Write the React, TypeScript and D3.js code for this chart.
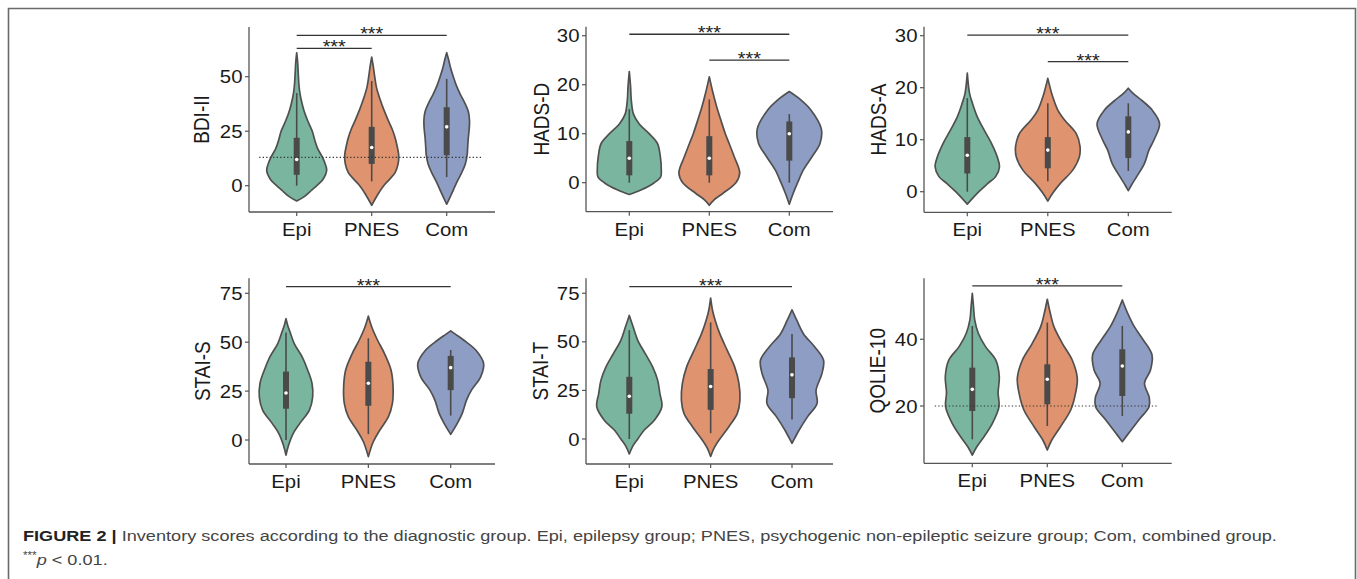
import React from "react";
import * as d3 from "d3";

// ---------- data ----------
const groups = ["Epi", "PNES", "Com"];
const groupFills = ["#7ab69f", "#e0936f", "#8e9dc3"];

const measures = ["BDI-II", "HADS-D", "HADS-A", "STAI-S", "STAI-T", "QOLIE-10"];

const bdiTicks = [0, 25, 50];
const hadsDTicks = [0, 10, 20, 30];
const hadsATicks = [0, 10, 20, 30];
const staiSTicks = [0, 25, 50, 75];
const staiTTicks = [0, 25, 50, 75];
const qolieTicks = [20, 40];

// violin outlines: [score, relative half-width]
const bdiProfiles: number[][][] = [
  [[-7, 0], [-5, 0.25], [-2, 0.5], [0, 0.67], [3, 0.88], [7, 1.0], [10, 0.95], [13, 0.86], [17, 0.7], [21, 0.6], [25, 0.52], [30, 0.36], [35, 0.23], [40, 0.14], [43, 0.1], [47, 0.07], [52, 0.05], [57, 0.03], [61, 0]],
  [[-9, 0], [-6, 0.12], [-3, 0.25], [0, 0.4], [3, 0.6], [6, 0.78], [10, 0.88], [14, 0.9], [18, 0.85], [22, 0.78], [26, 0.68], [30, 0.55], [35, 0.4], [40, 0.27], [45, 0.16], [50, 0.1], [55, 0.05], [59, 0]],
  [[-8.5, 0], [-5, 0.12], [-2, 0.22], [2, 0.35], [6, 0.5], [10, 0.62], [14, 0.68], [18, 0.7], [22, 0.72], [26, 0.75], [30, 0.76], [34, 0.72], [38, 0.6], [42, 0.45], [46, 0.32], [50, 0.22], [54, 0.13], [58, 0.06], [61, 0]],
];
const hadsDProfiles: number[][][] = [
  [[-2.4, 0], [-1.5, 0.36], [0, 0.78], [1.2, 0.98], [2.6, 1.0], [5.3, 0.97], [8, 0.88], [10, 0.62], [12, 0.31], [14, 0.13], [17, 0.06], [19.6, 0.04], [22.7, 0]],
  [[-4.6, 0], [-3.5, 0.15], [-2.2, 0.42], [0, 0.83], [2, 0.95], [5.3, 0.78], [8, 0.62], [10, 0.5], [12.8, 0.36], [15.5, 0.23], [18.2, 0.12], [21.6, 0]],
  [[-4.4, 0], [-2.2, 0.12], [0, 0.26], [2.6, 0.44], [5.3, 0.71], [8, 0.96], [11, 1.0], [14.8, 0.68], [16.9, 0.36], [18.6, 0]],
];
const hadsAProfiles: number[][][] = [
  [[-2.4, 0], [0, 0.36], [1.6, 0.64], [2.9, 0.88], [4.8, 1.0], [6.7, 0.93], [9.3, 0.75], [11.9, 0.52], [14.4, 0.31], [17, 0.16], [18.9, 0.07], [22.8, 0]],
  [[-1.8, 0], [-0.3, 0.15], [1.6, 0.39], [4.2, 0.78], [6.7, 0.98], [8.7, 1.0], [11.2, 0.88], [13.8, 0.52], [15.7, 0.31], [18.3, 0.15], [21.8, 0]],
  [[0.2, 0], [1.3, 0.1], [2.9, 0.26], [5.4, 0.5], [8, 0.64], [10, 0.8], [13.1, 0.97], [15.7, 0.74], [17.6, 0.41], [18.9, 0.15], [19.9, 0]],
];
const staiSProfiles: number[][][] = [
  [[-7.7, 0], [-2.6, 0.08], [3.4, 0.22], [8.5, 0.42], [15.3, 0.71], [22, 0.81], [28.9, 0.79], [35.7, 0.66], [42.5, 0.49], [49.3, 0.25], [55.3, 0.12], [58.7, 0.05], [62, 0]],
  [[-8.5, 0], [-0.9, 0.15], [5.1, 0.35], [11.9, 0.61], [18.7, 0.73], [27.2, 0.75], [35.7, 0.69], [44.2, 0.49], [51, 0.28], [57, 0.12], [63.3, 0]],
  [[2.9, 0], [8.5, 0.2], [13.6, 0.35], [20.4, 0.48], [25.5, 0.63], [32.3, 0.91], [39, 1.0], [46, 0.76], [51, 0.4], [54, 0.15], [55.8, 0]],
];
const staiTProfiles: number[][][] = [
  [[-7.7, 0], [-3.9, 0.1], [0, 0.26], [4.6, 0.46], [9.7, 0.77], [16.6, 1.0], [23.4, 0.94], [30.3, 0.87], [37, 0.72], [43.9, 0.49], [50.8, 0.26], [57.6, 0.12], [63.6, 0]],
  [[-9, 0], [-4.8, 0.1], [-0.5, 0.26], [6.3, 0.56], [13.2, 0.82], [20, 0.9], [28.5, 0.87], [37, 0.74], [45.6, 0.51], [54.2, 0.28], [61, 0.14], [66, 0.06], [72.5, 0]],
  [[-2.2, 0], [0.3, 0.08], [4.6, 0.22], [11.5, 0.48], [18.3, 0.77], [25.1, 0.74], [33.7, 0.92], [40.5, 0.97], [47.4, 0.7], [54.2, 0.35], [61, 0.15], [66.5, 0]],
];
const qolieProfiles: number[][][] = [
  [[5.3, 0], [7.8, 0.15], [10.8, 0.39], [14.8, 0.67], [19.8, 0.89], [24, 0.86], [28.8, 0.9], [33.8, 0.78], [37.8, 0.44], [41.8, 0.2], [45.8, 0.08], [49.8, 0.04], [53.8, 0]],
  [[6.8, 0], [9.8, 0.15], [13.8, 0.44], [18.8, 0.78], [23.8, 0.94], [28.3, 1.0], [33.8, 0.83], [38.8, 0.5], [43.8, 0.22], [47.8, 0.1], [52, 0]],
  [[9.3, 0], [12.3, 0.25], [15.8, 0.55], [19.8, 0.89], [22.5, 0.9], [26.8, 0.74], [30.8, 0.94], [35.3, 0.99], [39.8, 0.7], [43.8, 0.4], [47.8, 0.18], [51.8, 0]],
];

// box stats: [lower whisker, q1, median, q3, upper whisker]
const bdiBoxes = [[0, 5, 12, 22, 42.5], [2, 10, 17.5, 27, 48], [4, 14, 27, 36, 49]];
const hadsDBoxes = [[0, 1.5, 5, 8.5, 15], [0, 1.5, 5, 9.5, 17], [0, 4.5, 10, 12.5, 14]];
const hadsABoxes = [[0, 3.5, 7, 10.5, 18], [2, 4.5, 8, 10.5, 17], [4, 6.5, 11.5, 14.5, 17]];
const staiSBoxes = [[0, 16, 24, 35, 55], [3, 17.5, 29, 40, 52], [12.5, 25.5, 37, 43, 46]];
const staiTBoxes = [[0, 13, 22, 32, 56], [3, 15, 27, 36, 60], [10, 21, 33, 42, 54]];
const qolieBoxes = [[10, 18.5, 25, 31.5, 44], [14, 20.5, 28, 32.5, 45], [17, 23, 32, 37, 44]];

// significance brackets: [from group, to group, score level]
const bdiSig = [[0, 2, 69], [0, 1, 63]];
const hadsDSig = [[0, 2, 30.3], [1, 2, 25]];
const hadsASig = [[0, 2, 30.1], [1, 2, 25]];
const staiSSig = [[0, 2, 78.4]];
const staiTSig = [[0, 2, 78.4]];
const qolieSig = [[0, 2, 56]];

// cut-off reference lines
const bdiCutoff = [13];
const qolieCutoff = [20];
const noCutoff: number[] = [];

const captionBold = "FIGURE 2 | ";
const captionLine1 =
  "Inventory scores according to the diagnostic group. Epi, epilepsy group; PNES, psychogenic non-epileptic seizure group; Com, combined group.";
const captionLine2 = "p < 0.01.";

// ---------- layout ----------
type Layout = {
  left: number; right: number; top: number; bottom: number;
  yDomain: [number, number]; epiX: number; comX: number; labelX: number;
};
const layouts: Layout[] = [
  { left: 249, right: 495, top: 27, bottom: 212, yDomain: [-12.06, 72.8], epiX: 296.7, comX: 446.7, labelX: 208.5 },
  { left: 586, right: 833, top: 26.7, bottom: 211.7, yDomain: [-5.92, 31.84], epiX: 629.3, comX: 789.3, labelX: 548.5 },
  { left: 924, right: 1171.7, top: 26.7, bottom: 212.3, yDomain: [-3.96, 31.73], epiX: 967.3, comX: 1128.3, labelX: 886 },
  { left: 249, right: 495, top: 278.3, bottom: 464, yDomain: [-12.27, 82.67], epiX: 286, comX: 450.7, labelX: 210 },
  { left: 586, right: 833, top: 278.3, bottom: 464, yDomain: [-12.87, 82.7], epiX: 629.3, comX: 792, labelX: 548 },
  { left: 924, right: 1171.7, top: 278.3, bottom: 463.3, yDomain: [2.82, 58.29], epiX: 972.3, comX: 1122.3, labelX: 885 },
];

const panels = [
  { ticks: bdiTicks, profiles: bdiProfiles, boxes: bdiBoxes, sig: bdiSig, cut: bdiCutoff },
  { ticks: hadsDTicks, profiles: hadsDProfiles, boxes: hadsDBoxes, sig: hadsDSig, cut: noCutoff },
  { ticks: hadsATicks, profiles: hadsAProfiles, boxes: hadsABoxes, sig: hadsASig, cut: noCutoff },
  { ticks: staiSTicks, profiles: staiSProfiles, boxes: staiSBoxes, sig: staiSSig, cut: noCutoff },
  { ticks: staiTTicks, profiles: staiTProfiles, boxes: staiTBoxes, sig: staiTSig, cut: noCutoff },
  { ticks: qolieTicks, profiles: qolieProfiles, boxes: qolieBoxes, sig: qolieSig, cut: qolieCutoff },
];

const FONT = "'Liberation Sans', Arial, Helvetica, sans-serif";
const AXIS = "#555";
const SX = 1.1;

function Panel({ idx }: { idx: number }) {
  const L = layouts[idx];
  const P = panels[idx];
  const y = d3.scaleLinear().domain(L.yDomain).range([L.bottom, L.top]);
  const x = d3.scaleLinear().domain([0, 2]).range([L.epiX, L.comX]);
  const unit = (L.comX - L.epiX) / 2;
  const half = 0.4 * unit;
  const midY = (L.top + L.bottom) / 2;

  return (
    <g>
      {P.profiles.map((prof, i) => {
        const area = d3
          .area<number[]>()
          .y((d) => y(d[0]))
          .x0((d) => x(i) - half * d[1])
          .x1((d) => x(i) + half * d[1])
          .curve(d3.curveCatmullRom.alpha(0.5));
        return (
          <path key={"v" + i} d={area(prof) || ""} fill={groupFills[i]} stroke="#505050" strokeWidth={1.7} strokeLinejoin="round" />
        );
      })}
      {P.boxes.map((b, i) => (
        <g key={"b" + i}>
          <line x1={x(i)} x2={x(i)} y1={y(b[0])} y2={y(b[4])} stroke="#4a4a4a" strokeWidth={1.6} />
          <rect x={x(i) - 3} width={6} y={y(b[3])} height={y(b[1]) - y(b[3])} fill="#4a4a4a" />
          <circle cx={x(i)} cy={y(b[2])} r={1.8} fill="#fff" />
        </g>
      ))}
      {P.cut.map((c, k) => (
        <line key={"c" + k} x1={x(-0.5)} x2={x(2.47)} y1={y(c)} y2={y(c)} stroke="#333" strokeWidth={1.2} strokeDasharray="1.3,2.2" />
      ))}
      {P.sig.map((s, k) => (
        <g key={"s" + k}>
          <line x1={x(s[0])} x2={x(s[1])} y1={y(s[2])} y2={y(s[2])} stroke="#333" strokeWidth={1.3} />
          <text
            transform={`translate(${(x(s[0]) + x(s[1])) / 2},${y(s[2]) + 5}) scale(${SX},1)`}
            textAnchor="middle"
            fontSize={18}
            fontFamily={FONT}
            fill="#222"
          >
            ***
          </text>
        </g>
      ))}
      <line x1={L.left} x2={L.left} y1={L.top} y2={L.bottom} stroke={AXIS} strokeWidth={1.3} />
      <line x1={L.left} x2={L.right} y1={L.bottom} y2={L.bottom} stroke={AXIS} strokeWidth={1.3} />
      {P.ticks.map((t) => (
        <g key={"t" + t}>
          <line x1={L.left - 4} x2={L.left} y1={y(t)} y2={y(t)} stroke={AXIS} strokeWidth={1.2} />
          <text
            transform={`translate(${L.left - 6.5},${y(t) + 6.6}) scale(${SX},1)`}
            textAnchor="end"
            fontSize={18.5}
            fontFamily={FONT}
            fill="#1a1a1a"
          >
            {t}
          </text>
        </g>
      ))}
      {groups.map((g, i) => (
        <g key={"g" + g}>
          <line x1={x(i)} x2={x(i)} y1={L.bottom} y2={L.bottom + 4} stroke={AXIS} strokeWidth={1.2} />
          <text
            transform={`translate(${x(i)},${L.bottom + 24}) scale(${SX},1)`}
            textAnchor="middle"
            fontSize={18.5}
            fontFamily={FONT}
            fill="#1a1a1a"
          >
            {g}
          </text>
        </g>
      ))}
      <text
        transform={`translate(${L.labelX},${midY}) scale(1.15,1) rotate(-90)`}
        textAnchor="middle"
        fontSize={19}
        fontFamily={FONT}
        fill="#1a1a1a"
      >
        {measures[idx]}
      </text>
    </g>
  );
}

export default function App() {
  return (
    <svg
      width={1357}
      height={579}
      style={{ position: "absolute", left: 0, top: 0, background: "#fff" }}
    >
      <rect x={0} y={0} width={1357} height={579} fill="#fff" />
      <path d="M8.5,600 L8.5,8.5 L1355.5,8.5 L1355.5,600" fill="none" stroke="#6a6a6a" strokeWidth={1.6} />
      {layouts.map((_, i) => (
        <Panel key={i} idx={i} />
      ))}
      <text transform="translate(23,541) scale(1.169,1)" fontFamily={FONT} fontSize={15.5} fill="#444">
        <tspan fontWeight="bold" fill="#222">{captionBold}</tspan>
        <tspan>{captionLine1}</tspan>
      </text>
      <text transform="translate(23,565) scale(1.169,1)" fontFamily={FONT} fontSize={15.5} fill="#444">
        <tspan fontSize={10} dy={-6}>***</tspan>
        <tspan fontStyle="italic" dy={6}>{captionLine2.slice(0, 1)}</tspan>
        <tspan>{captionLine2.slice(1)}</tspan>
      </text>
    </svg>
  );
}
